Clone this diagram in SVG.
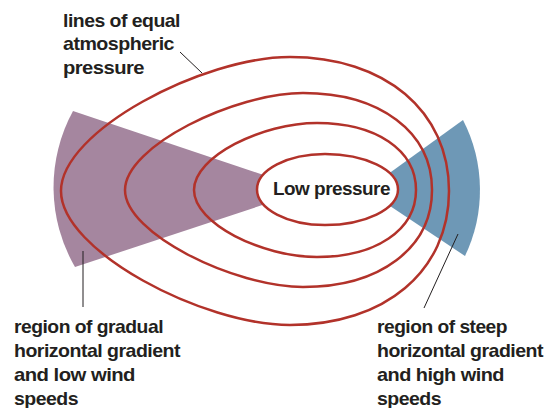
<svg xmlns="http://www.w3.org/2000/svg" width="545" height="408" viewBox="0 0 545 408">
  <style>
    .iso { fill: none; stroke: #B2322A; stroke-width: 2.5; }
    .lbl { font-family: "Liberation Sans", Arial, sans-serif; font-weight: bold; font-size: 19px; fill: #231F20; letter-spacing: -0.5px; }
    .lead { stroke: #231F20; stroke-width: 1; fill: none; }
  </style>
  <rect width="545" height="408" fill="#FFFFFF"/>
  <g id="gradual-region">
    <path d="M308,190 L73,111 A159,159 0 0 0 75,267 Z" fill="#A5869F"/>
  </g>
  <g id="steep-region">
    <path d="M366,190 L463,120 A153,153 0 0 1 465,256 Z" fill="#6E98B6"/>
  </g>
  <g id="isobars">
    <path class="iso" d="M61,191 C61,131 203,57 290,57 C385,57 449,111 449,191 C449,271 385,325 290,325 C203,325 61,251 61,191 Z"/>
    <path class="iso" d="M125,190 C125,146 235,93 303,93 C380,93 432,132 432,190 C432,248 380,287 303,287 C235,287 125,234 125,190 Z"/>
    <path class="iso" d="M194,190 C194,156.5 262,123 317,123 C376,123 416,150 416,190 C416,230 376,257 317,257 C262,257 194,223.5 194,190 Z"/>
  </g>
  <g id="low-pressure">
    <path d="M257,189.5 C257,170 287.6,154 325,154 C365,154 398,170 398,189.5 C398,209 365,225 325,225 C287.6,225 257,209 257,189.5 Z" fill="#FFFFFF" stroke="#B2322A" stroke-width="2.5"/>
    <text class="lbl" x="273" y="194.5" textLength="117" lengthAdjust="spacingAndGlyphs">Low pressure</text>
  </g>
  <g id="connectors">
    <line class="lead" x1="180" y1="52" x2="202" y2="73"/>
    <line class="lead" x1="83" y1="251" x2="83" y2="307"/>
    <line class="lead" x1="458" y1="234" x2="424" y2="308"/>
  </g>
  <g id="label-isobars">
    <text class="lbl" x="63" y="26.5" textLength="117" lengthAdjust="spacingAndGlyphs">lines of equal</text>
    <text class="lbl" x="63" y="50" textLength="111" lengthAdjust="spacingAndGlyphs">atmospheric</text>
    <text class="lbl" x="63" y="73.5" textLength="81" lengthAdjust="spacingAndGlyphs">pressure</text>
  </g>
  <g id="label-gradual">
    <text class="lbl" x="14" y="333" textLength="149" lengthAdjust="spacingAndGlyphs">region of gradual</text>
    <text class="lbl" x="14" y="357" textLength="166" lengthAdjust="spacingAndGlyphs">horizontal gradient</text>
    <text class="lbl" x="14" y="381" textLength="121" lengthAdjust="spacingAndGlyphs">and low wind</text>
    <text class="lbl" x="14" y="405" textLength="64" lengthAdjust="spacingAndGlyphs">speeds</text>
  </g>
  <g id="label-steep">
    <text class="lbl" x="377" y="333" textLength="130" lengthAdjust="spacingAndGlyphs">region of steep</text>
    <text class="lbl" x="377" y="357" textLength="166" lengthAdjust="spacingAndGlyphs">horizontal gradient</text>
    <text class="lbl" x="377" y="381" textLength="127" lengthAdjust="spacingAndGlyphs">and high wind</text>
    <text class="lbl" x="377" y="405" textLength="64" lengthAdjust="spacingAndGlyphs">speeds</text>
  </g>
</svg>
